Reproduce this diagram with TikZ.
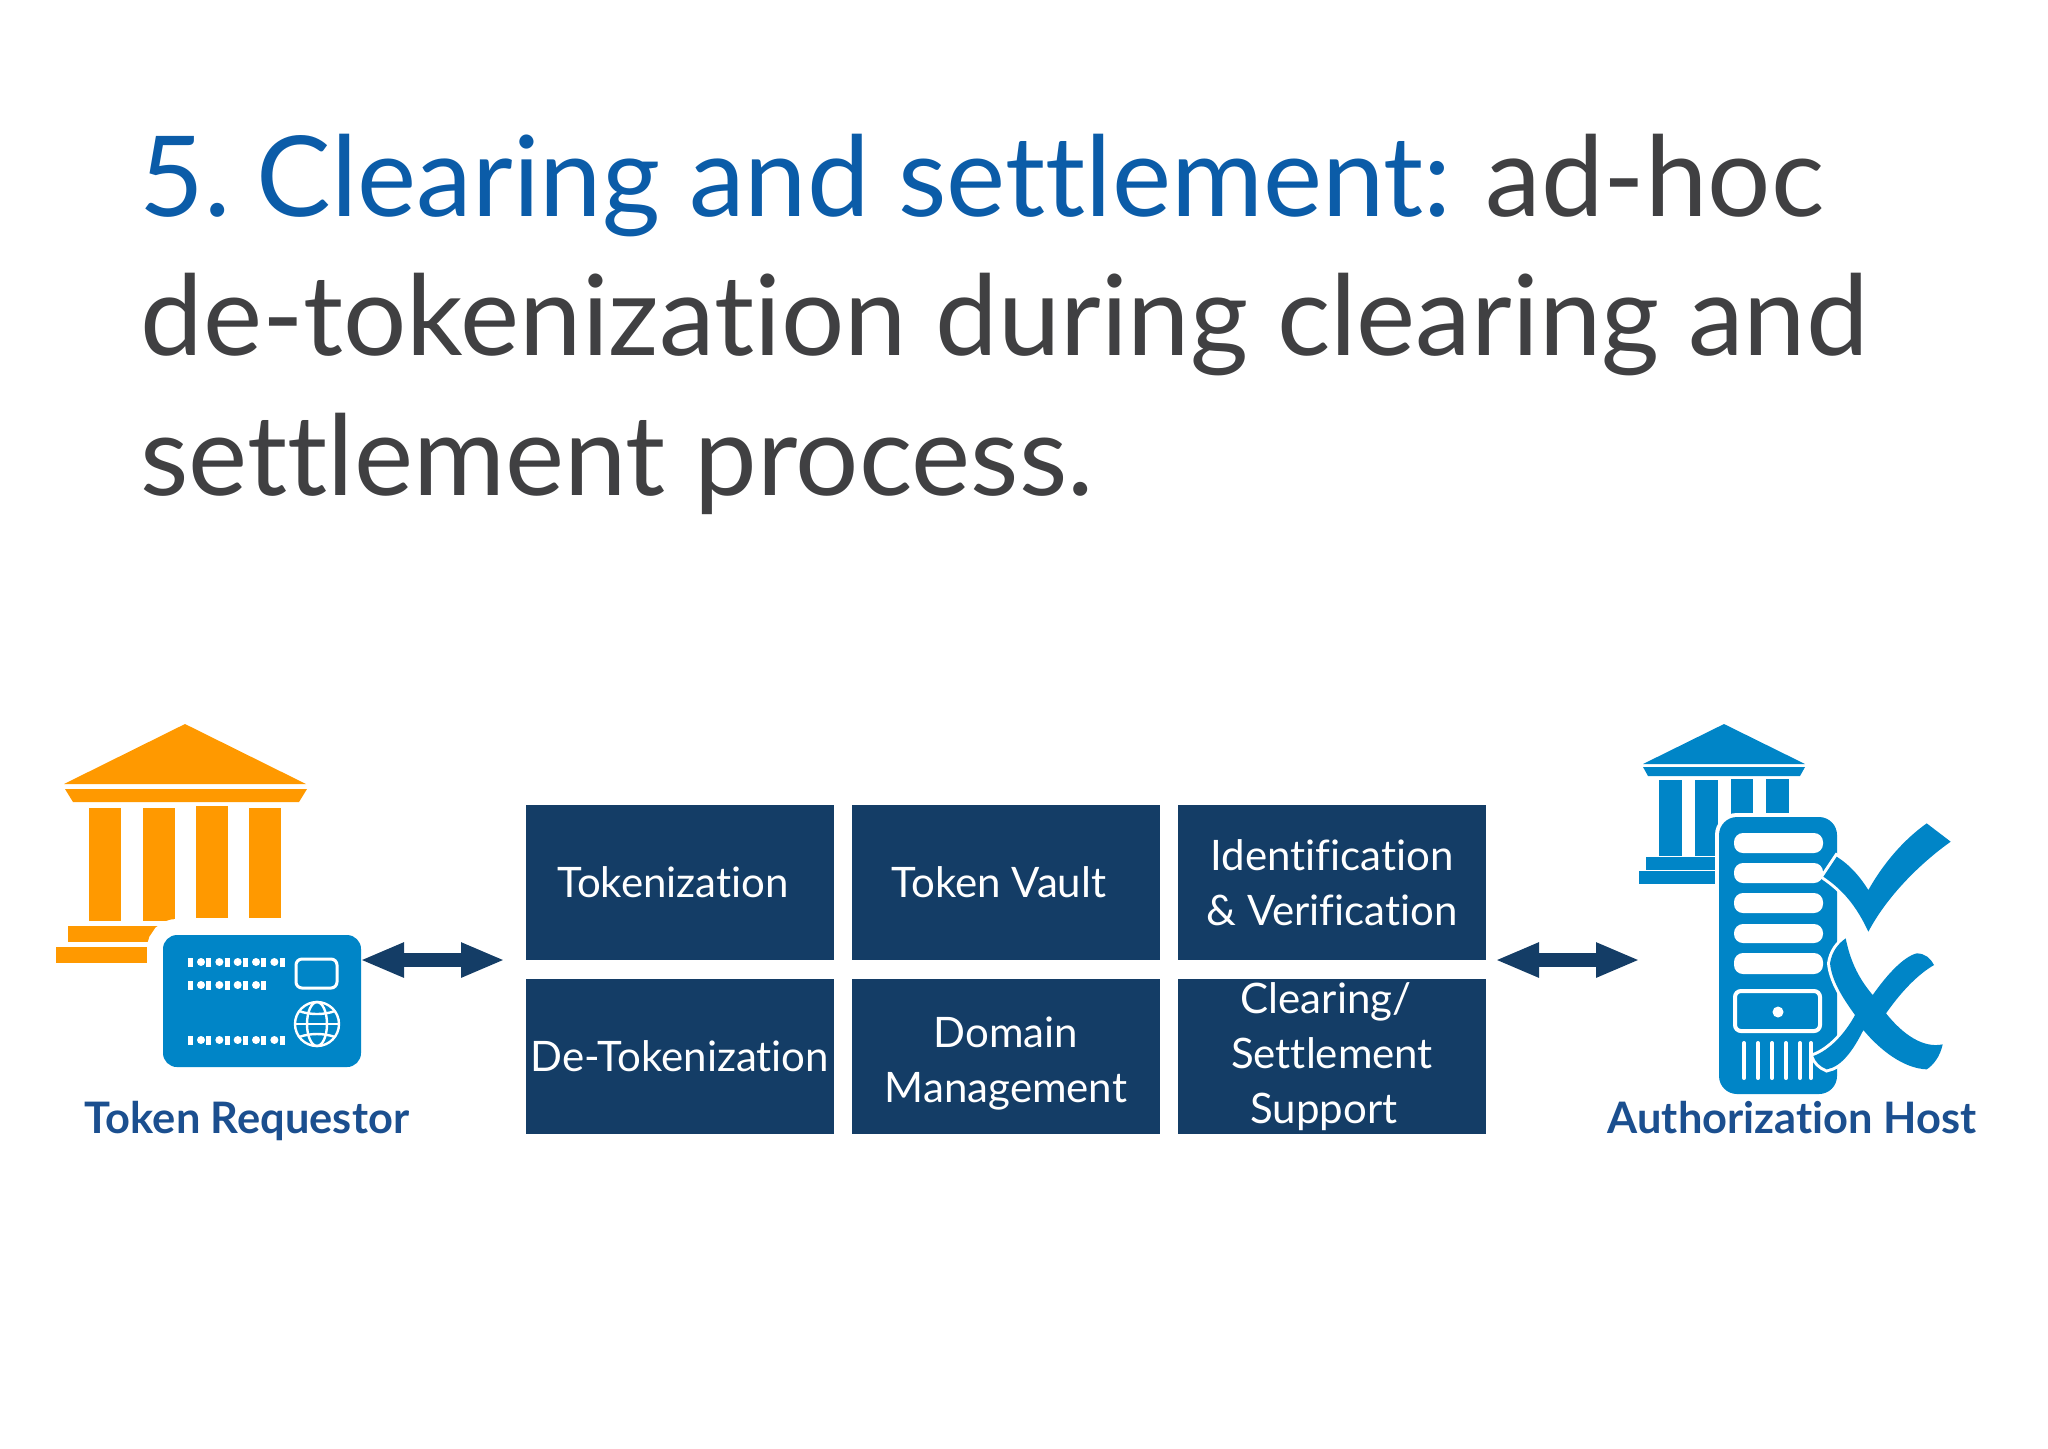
\documentclass[tikz,border=0pt]{standalone}
\usepackage{fontspec}
\setmainfont{Lato}[Ligatures=NoCommon]
\usetikzlibrary{positioning,arrows.meta}
\definecolor{titleblue}{HTML}{0B5CA8}
\definecolor{titlegray}{HTML}{404042}
\definecolor{navy}{HTML}{143D66}
\definecolor{bankorange}{HTML}{FF9900}
\definecolor{hostblue}{HTML}{0085C7}
\definecolor{labelblue}{HTML}{1B4F8F}
\tikzset{x=0.5pt, y=-0.5pt}
\tikzset{titleline/.style={anchor=base west,inner sep=0pt,text=titlegray,font=\fontsize{55.9}{60}\selectfont}}
\tikzset{mat/.style={fill=navy,text=white,inner sep=0pt,outer sep=0pt,minimum width=154pt,minimum height=77.5pt,align=center,font=\fontsize{21}{27.5}\selectfont}}
\tikzset{hostlabel/.style={anchor=base,inner sep=0pt,text=labelblue,font=\fontsize{21.7}{26}\selectfont\bfseries}}
\tikzset{link/.style={{Triangle[length=22pt,width=16pt]}-{Triangle[length=22pt,width=16pt]},draw=navy,line width=7pt}}
\tikzset{halo/.style={preaction={draw=white,line width=#1}}}
\tikzset{cardbar/.style={white,line width=4.5pt,dash pattern=on 2.5pt off 6.67pt}}
\tikzset{carddot/.style={white,line width=4pt,line cap=round,dash pattern=on 0.01pt off 9.16pt}}
\begin{document}
\begin{tikzpicture}
  \useasboundingbox (0,0) rectangle (2048,1448);

  % heading
  \node[titleline] (head_a) at (139,216) {\textcolor{titleblue}{5.\kern-6pt{} Clearing and settlement:}\kern-2pt{} ad-hoc};
  \node[titleline] (head_b) at (140,355) {de-tokenization during clearing and};
  \node[titleline] (head_c) at (140,495) {settlement process.};

  % function blocks
  \node[mat] (tokenization) at (680,882.5) {Tokenization\hspace{7pt}};
  \node[mat] (vault) [right=9pt of tokenization] {Token Vault\hspace{7pt}};
  \node[mat] (verify) [right=9pt of vault] {Identification\\\& Verification};
  \node[mat] (detoken) [below=9.5pt of tokenization] {De-Tokenization};
  \node[mat] (domain) [right=9pt of detoken] {\rule{0pt}{22pt}Domain\\Management};
  \node[mat] (clearing) [right=9pt of domain] {Clearing/\kern6pt\\Settlement\\Support\kern8pt};

  % token requestor
  \fill[bankorange] (185,724) -- (306,784) -- (64,784) -- cycle;
  \fill[bankorange] (65,789) -- (307,789) -- (299,802) -- (73,802) -- cycle;
  \fill[bankorange] (89,808) rectangle (121,921);
  \fill[bankorange] (143,808) rectangle (175,921);
  \fill[bankorange] (196,806) rectangle (228,918);
  \fill[bankorange] (249,808) rectangle (281,918);
  \fill[bankorange] (68,926) rectangle (170,942);
  \fill[bankorange] (56,947) rectangle (160,963);
  \fill[hostblue,rounded corners=7pt,halo=16pt] (163,935) rectangle (361,1067);
  \foreach \yy/\xend in {962/286,985/268,1040/286}{
    \draw[cardbar] (188,\yy) -- (\xend,\yy);
    \draw[carddot] (201,\yy) -- (\xend,\yy);
  }
  \draw[white,line width=1.5pt,rounded corners=3pt] (296,959) rectangle (337,988);
  \draw[white,line width=1.2pt] (317,1024) circle (22);
  \draw[white,line width=1.2pt] (317,1024) ellipse (10 and 22);
  \draw[white,line width=1.2pt] (295,1024) -- (339,1024);
  \draw[white,line width=1.2pt] (299,1011) .. controls (310,1015) and (324,1015) .. (335,1011);
  \draw[white,line width=1.2pt] (299,1037) .. controls (310,1033) and (324,1033) .. (335,1037);
  \node[hostlabel] (requestor) at (247,1133) {Token Requestor};

  % authorization host
  \fill[hostblue] (1724,724) -- (1805,764) -- (1643,764) -- cycle;
  \fill[hostblue] (1643,767) -- (1805,767) -- (1800,776) -- (1648,776) -- cycle;
  \fill[hostblue] (1659,780) rectangle (1682,856);
  \fill[hostblue] (1695,780) rectangle (1718,856);
  \fill[hostblue] (1731,779) rectangle (1753,820);
  \fill[hostblue] (1766,779) rectangle (1789,820);
  \fill[hostblue] (1646,857) rectangle (1718,870);
  \fill[hostblue] (1639,871) rectangle (1718,884);
  \fill[hostblue,rounded corners=9pt,halo=4pt] (1719,817) rectangle (1837,1094);
  \foreach \ytop/\ybot in {833/853,863/883,893/913,924/943,953/974}
    \fill[white,rounded corners=4.5pt] (1734,\ytop) rectangle (1823,\ybot);
  \draw[white,line width=2pt,rounded corners=3pt] (1735,991) rectangle (1820,1031);
  \fill[white] (1778,1012) circle (5.5);
  \foreach \xx in {1744,1758,1772,1786,1800,1811}
    \draw[white,line width=2pt,line cap=round] (\xx,1043) -- (\xx,1078);
  \begin{scope}[shift={(1480,700)},x=0.16667pt,y=-0.16667pt]
    % check mark
    \fill[hostblue,halo=3pt] (1030,530) -- (1070,470) .. controls (1110,495) and (1140,530) .. (1165,570)
      .. controls (1210,490) and (1270,420) .. (1340,370) -- (1412,425)
      .. controls (1320,490) and (1220,590) .. (1165,695)
      .. controls (1130,620) and (1090,570) .. (1030,530) -- cycle;
    % cross mark
    \fill[hostblue,halo=3pt] (1097,715) .. controls (1112,790) and (1140,840) .. (1178,885)
      .. controls (1220,825) and (1270,770) .. (1310,760) .. controls (1335,760) and (1352,775) .. (1362,795)
      .. controls (1310,825) and (1260,880) .. (1218,940)
      .. controls (1270,1005) and (1330,1045) .. (1388,1033)
      .. controls (1380,1070) and (1360,1095) .. (1340,1108)
      .. controls (1270,1105) and (1200,1050) .. (1150,990)
      .. controls (1120,1050) and (1085,1100) .. (1040,1108)
      .. controls (1020,1100) and (1005,1085) .. (1000,1068)
      .. controls (1050,1050) and (1095,1000) .. (1125,945)
      .. controls (1085,890) and (1055,840) .. (1050,790)
      .. controls (1055,755) and (1075,730) .. (1097,715) -- cycle;
  \end{scope}
  \node[hostlabel] (host) at (1792,1133) {Authorization Host};

  % connectors
  \coordinate (req_in) at (360,960);
  \coordinate (req_out) at (505,960);
  \coordinate (host_in) at (1495,960);
  \coordinate (host_out) at (1640,960);
  \draw[link] (req_in) -- (req_out);
  \draw[link] (host_in) -- (host_out);
\end{tikzpicture}
\end{document}
